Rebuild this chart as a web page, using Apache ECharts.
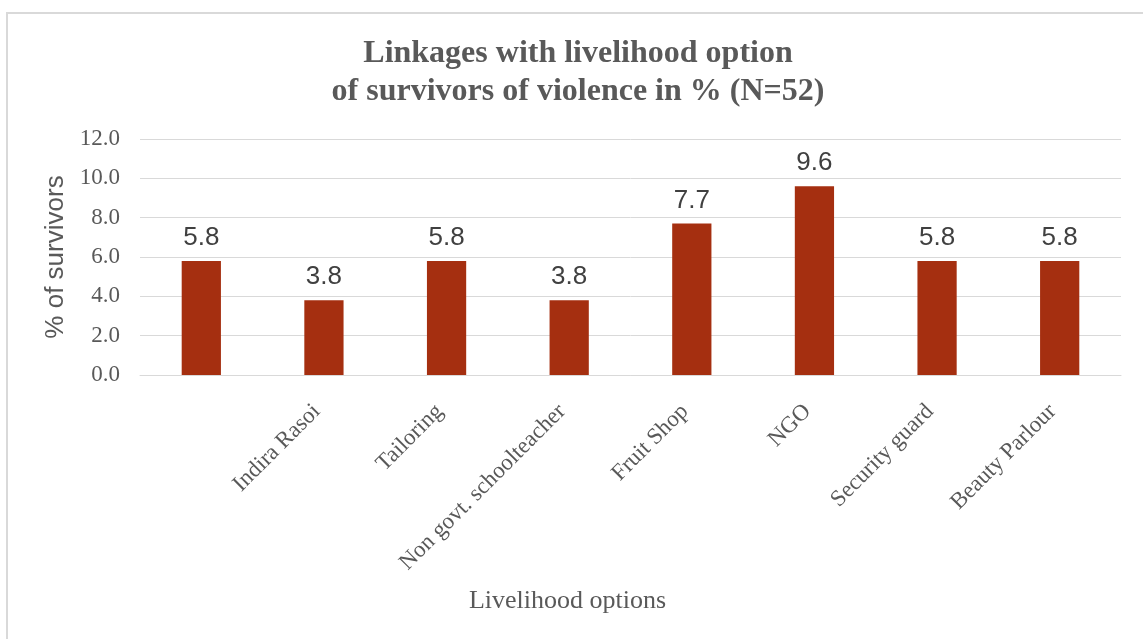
<!DOCTYPE html>
<html>
<head>
<meta charset="utf-8">
<script src="https://cdn.jsdelivr.net/npm/echarts@6/dist/echarts.min.js"></script>
<style>
  html, body { margin: 0; padding: 0; background: #fff; }
  #frame { position: absolute; left: 6px; top: 12px; width: 1150px; height: 640px;
           border-left: 2px solid #d9d9d9; border-top: 2px solid #d9d9d9; box-sizing: border-box; }
  #chart { position: absolute; left: 0; top: 0; width: 1143px; height: 639px; }
</style>
</head>
<body>
<div id="frame"></div>
<div id="chart"></div>
<script>
// Livelihood options linked for survivors (first option has no name)
const categories = ['', 'Indira Rasoi', 'Tailoring', 'Non govt. schoolteacher', 'Fruit Shop', 'NGO', 'Security guard', 'Beauty Parlour'];
const percentSurvivors = [5.8, 3.8, 5.8, 3.8, 7.7, 9.6, 5.8, 5.8];
const yTicks = { min: 0, max: 12, interval: 2 };

const chart = echarts.init(document.getElementById('chart'), null, { renderer: 'canvas' });
chart.setOption({
  animation: false,
  backgroundColor: 'transparent',
  title: {
    text: 'Linkages with livelihood option\nof survivors of violence in % (N=52)',
    left: 573,
    textAlign: 'center',
    top: 30,
    textStyle: {
      fontFamily: 'Liberation Serif',
      fontWeight: 'bold',
      fontSize: 32,
      lineHeight: 38,
      color: '#595959'
    }
  },
  grid: { left: 140, right: 22, top: 139, height: 236, containLabel: false },
  xAxis: {
    type: 'category',
    data: categories,
    name: 'Livelihood options',
    nameLocation: 'middle',
    nameGap: 213,
    nameTextStyle: {
      fontFamily: 'Liberation Serif', fontSize: 26, color: '#595959',
      padding: [0, 126, 0, 0]
    },
    axisLine: { lineStyle: { color: '#d9d9d9', width: 1 } },
    axisTick: { show: false },
    axisLabel: {
      rotate: 45,
      interval: 0,
      margin: 26,
      padding: [0, 10, 0, 0],
      fontFamily: 'Liberation Serif',
      fontSize: 23,
      color: '#595959'
    }
  },
  yAxis: {
    type: 'value',
    min: yTicks.min,
    max: yTicks.max,
    interval: yTicks.interval,
    name: '% of survivors',
    nameLocation: 'middle',
    nameGap: 65,
    nameTextStyle: { fontFamily: 'Liberation Sans', fontSize: 26, color: '#595959' },
    axisLine: { show: false },
    axisTick: { show: false },
    splitLine: { lineStyle: { color: '#d9d9d9', width: 1 } },
    axisLabel: {
      formatter: v => v.toFixed(1),
      margin: 20,
      fontFamily: 'Liberation Serif',
      fontSize: 23,
      color: '#595959'
    }
  },
  series: [{
    type: 'bar',
    data: percentSurvivors,
    barWidth: '32%',
    itemStyle: { color: '#a52f10' },
    label: {
      show: true,
      position: 'top',
      distance: 10,
      formatter: p => p.value.toFixed(1),
      fontFamily: 'Liberation Sans',
      fontSize: 26,
      color: '#404040'
    }
  }]
});
</script>
</body>
</html>
